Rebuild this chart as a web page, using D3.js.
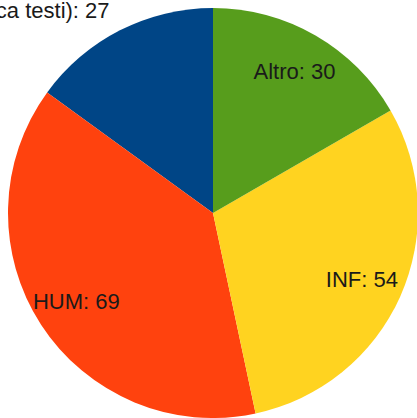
<!DOCTYPE html>
<html>
<head>
<meta charset="utf-8">
<script src="https://cdn.jsdelivr.net/npm/d3@7"></script>
<style>
  body { margin: 0; background: #fff; }
  svg { display: block; }
</style>
</head>
<body>
<div id="chart"></div>
<script>
// slices in drawing order (counter-clockwise from 12 o'clock)
const categories = ["Filologia (critica testi)", "HUM", "INF", "Altro"];
const values = [27, 69, 54, 30];
const colors = ["#004586", "#ff420e", "#ffd320", "#579d1c"];

const width = 417;
const height = 418;
const cx = 213, cy = 213;
const radius = 205;
const labelRadius = 163;

const data = categories.map((c, i) => ({name: c, value: values[i], color: colors[i]}));

const svg = d3.select("#chart")
  .append("svg")
    .attr("width", width)
    .attr("height", height);

const g = svg.append("g")
  .attr("transform", "translate(" + cx + "," + cy + ")");

const pie = d3.pie()
  .sort(null)
  .value(d => d.value)
  .startAngle(0)
  .endAngle(-2 * Math.PI);

const arc = d3.arc()
  .innerRadius(0)
  .outerRadius(radius);

const labelArc = d3.arc()
  .innerRadius(labelRadius)
  .outerRadius(labelRadius);

const outerArc = d3.arc()
  .innerRadius(radius + 14)
  .outerRadius(radius + 14);

const arcs = pie(data);

g.selectAll("path")
  .data(arcs)
  .enter()
  .append("path")
    .attr("d", arc)
    .attr("fill", d => d.data.color);

// labels: inside when they fit, otherwise outside the pie
const labels = g.selectAll("text")
  .data(arcs)
  .enter()
  .append("text")
    .attr("font-family", "Liberation Sans, Arial, sans-serif")
    .attr("font-size", "22px")
    .attr("fill", "#1a1a1a")
    .text(d => d.data.name + ": " + d.data.value);

labels.each(function(d) {
  const t = d3.select(this);
  const w = this.getComputedTextLength();
  const half = Math.abs(d.endAngle - d.startAngle) / 2;
  const chord = 2 * labelRadius * Math.sin(half);
  if (w < chord) {
    const [x, y] = labelArc.centroid(d);
    t.attr("x", x).attr("y", y)
      .attr("text-anchor", "middle")
      .attr("dominant-baseline", "central");
  } else {
    const [x, y] = outerArc.centroid(d);
    t.attr("x", x).attr("y", y)
      .attr("dx", x < 0 ? -4 : 4)
      .attr("text-anchor", x < 0 ? "end" : "start");
  }
});
</script>
</body>
</html>
